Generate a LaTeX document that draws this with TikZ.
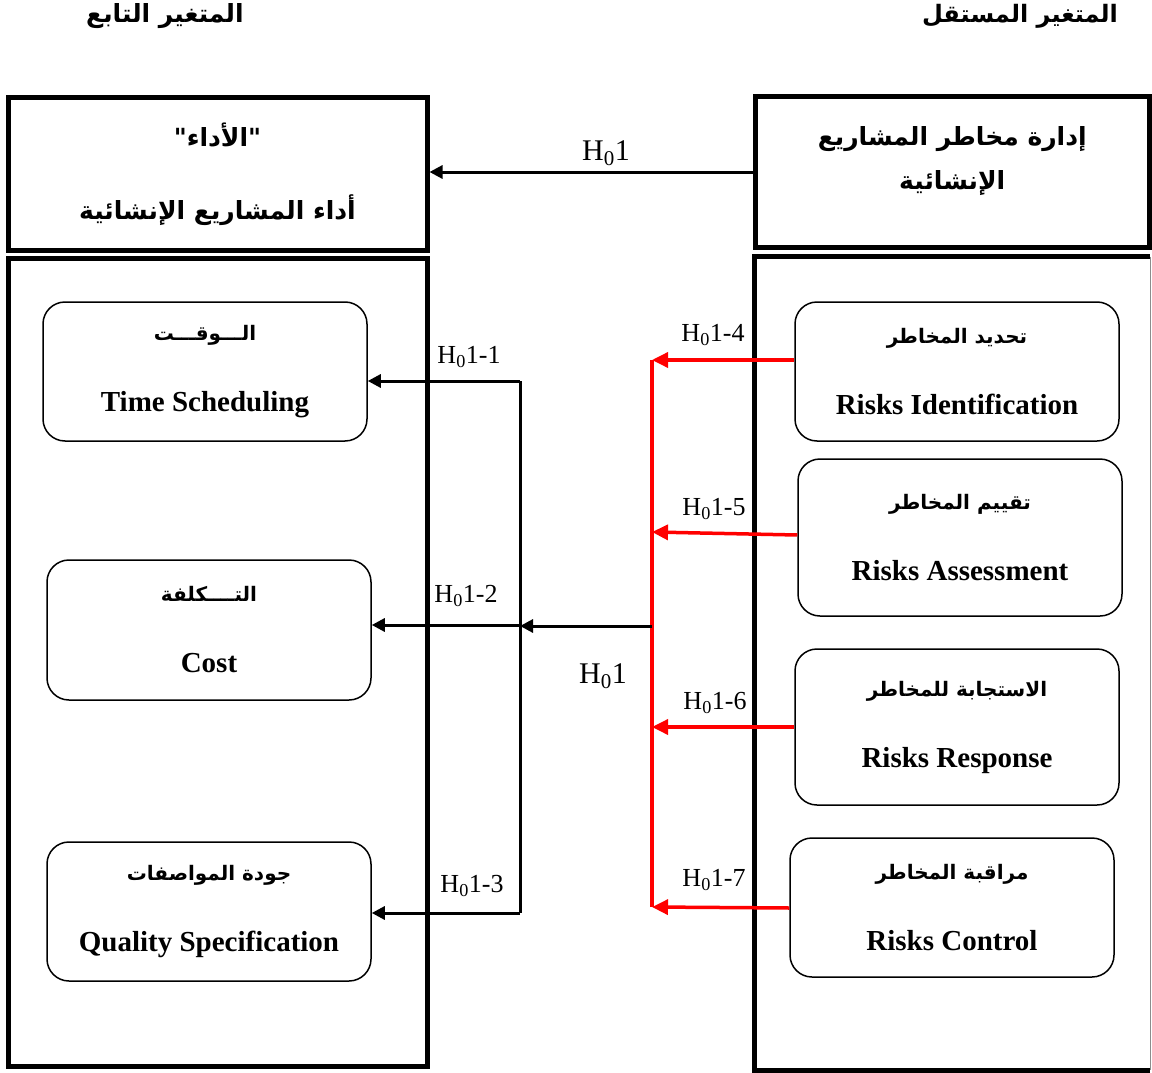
\documentclass[tikz,border=0pt]{standalone}
\usepackage{fontspec}
\setmainfont{Liberation Serif}
\newfontfamily\ar[Script=Arabic]{DejaVu Sans}
\TeXXeTstate=1
\usetikzlibrary{arrows.meta}
\newcommand\Hzero{H\textsubscript{0}1}
\newcommand\arsize[1]{\ar\bfseries\fontsize{#1}{#1}\selectfont}
\tikzset{
  frame/.style={draw, line width=5pt, inner sep=0pt, align=center},
  rbox/.style={draw, line width=1.5pt, rounded corners=22pt, minimum width=324pt,
    align=center, inner sep=0pt, font=\fontsize{29}{33}\selectfont},
  blk/.style={line width=3pt},
  redline/.style={line width=3.5pt, draw=red},
  arr/.style={-{Triangle[length=13pt,width=13pt]}},
  rarr/.style={-{Triangle[length=16pt,width=15pt]}},
  hlab/.style={inner sep=0pt, font=\fontsize{26}{30}\selectfont},
  hbig/.style={inner sep=0pt, font=\fontsize{30}{34}\selectfont},
}
\begin{document}
\begin{tikzpicture}[x=1pt,y=-1pt]
\useasboundingbox (0,0) rectangle (1152,1073);

% column headings
\node (headL) at (165,16) {\arsize{25}\beginR المتغير التابع\endR};
\node (headR) at (1020,16) {\arsize{24}\beginR المتغير المستقل\endR};

% top frames
\node[frame, minimum width=419pt, minimum height=152pt] (ltop) at (217.5,174)
  {{\arsize{25}\beginR "الأداء"\endR}\\[46pt]{\arsize{25}\beginR أداء المشاريع الإنشائية\endR}};
\node[frame, minimum width=394.5pt, minimum height=150pt] (rtop) at (952.25,172)
  {{\arsize{25}\beginR إدارة مخاطر المشاريع\endR}\\[18pt]{\arsize{25}\beginR الإنشائية\endR}\\[16pt]\mbox{}};

% lower container frames (the right one runs off the page edge)
\node[frame, minimum width=419pt, minimum height=808pt] (lbot) at (217.5,662) {};
\node[minimum width=395pt, minimum height=813pt, inner sep=0pt] (rbot) at (952.5,663.5) {};
\draw[line width=5pt] (rbot.north east) -- (rbot.north west) -- (rbot.south west) -- (rbot.south east);
\draw[line width=1pt, black!45] (rbot.north east) -- (rbot.south east);

% dependent dimensions
\node[rbox, minimum height=139pt] (time) at (205,371.5)
  {{\arsize{20}\beginR الـــوقـــت\endR}\\[38pt]\textbf{Time Scheduling}};
\node[rbox, minimum height=140pt] (cost) at (209,630)
  {{\arsize{20}\beginR التــــكلفة\endR}\\[38pt]\textbf{Cost}};
\node[rbox, minimum height=139pt] (qual) at (209,911.5)
  {{\arsize{20}\beginR جودة المواصفات\endR}\\[38pt]\textbf{Quality Specification}};

% independent dimensions
\node[rbox, minimum height=139pt] (ident) at (957,371.5)
  {{\arsize{20}\beginR تحديد المخاطر\endR}\\[38pt]\textbf{Risks Identification}};
\node[rbox, minimum height=157pt] (asses) at (960,537.5)
  {{\arsize{20}\beginR تقييم المخاطر\endR}\\[38pt]\textbf{Risks Assessment}};
\node[rbox, minimum height=156pt] (resp) at (957,727)
  {{\arsize{20}\beginR الاستجابة للمخاطر\endR}\\[38pt]\textbf{Risks Response}};
\node[rbox, minimum height=139pt] (ctrl) at (952,907.5)
  {{\arsize{20}\beginR مراقبة المخاطر\endR}\\[38pt]\textbf{Risks Control}};

% main hypothesis between the top frames
\draw[blk, arr] (rtop.west) -- (ltop.east |- rtop.west);
\node[hbig] (hmain) at (606,153) {\Hzero};

% black distribution bus
\coordinate (b1) at (520,381);
\coordinate (b2) at (520,625);
\coordinate (b3) at (520,913);
\draw[blk] (b1) -- (b3);
\draw[blk, arr] (b1) -- (time.east |- b1);
\draw[blk, arr] (b2) -- (cost.east |- b2);
\draw[blk, arr] (b3) -- (qual.east |- b3);

% red collecting bus
\coordinate (r1) at (652,360);
\coordinate (r2) at (652,532);
\coordinate (r3) at (652,727);
\coordinate (r4) at (652,907);
\coordinate (rm) at (652,626);
\draw[redline] (r1) -- (r4);
\draw[redline, rarr] (ident.west |- r1) -- (r1);
\draw[redline, rarr] ([yshift=-3pt]asses.west |- r2) -- (r2);
\draw[redline, rarr] (resp.west |- r3) -- (r3);
\draw[redline, rarr] ([yshift=-1pt]ctrl.west |- r4) -- (r4);
\draw[blk, arr] (rm) -- (b2 |- rm);
\node[hbig] (hmid) at (603,676) {\Hzero};

% sub-hypothesis labels
\node[hlab] (h11) at (469,357) {\Hzero-1};
\node[hlab] (h12) at (466,596) {\Hzero-2};
\node[hlab] (h13) at (472,886) {\Hzero-3};
\node[hlab] (h14) at (713,335) {\Hzero-4};
\node[hlab] (h15) at (714,509) {\Hzero-5};
\node[hlab] (h16) at (715,703) {\Hzero-6};
\node[hlab] (h17) at (714,880) {\Hzero-7};
\end{tikzpicture}
\end{document}
